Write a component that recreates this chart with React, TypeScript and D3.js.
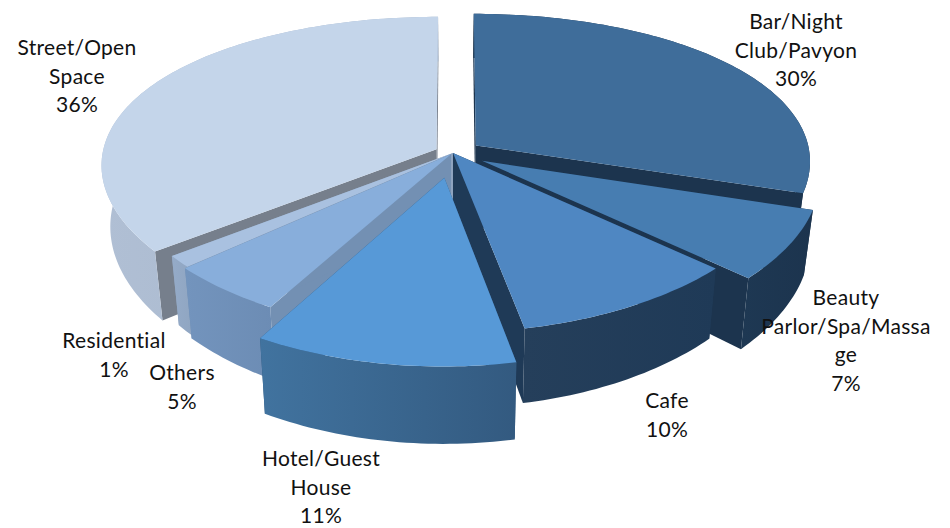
import * as d3 from 'd3'

const categories = ['Bar/Night Club/Pavyon', 'Beauty Parlor/Spa/Massage', 'Cafe', 'Hotel/Guest House', 'Others', 'Residential', 'Street/Open Space']
const shares = [29.9, 7, 10, 11.3, 5.1, 1.2, 35.5]
// how far each slice is pulled out, as a fraction of the radius
const explode = [0.085, 0.1, 0, 0.16, 0.01, 0, 0.055]

const topColors = ['#3f6d9a', '#477db1', '#4f87c2', '#5799d7', '#88aedb', '#a9c1e0', '#c4d5ea']
const sideColors = ['#1c344e', '#1c344e', '#1f3a57', '#2f557a', '#7390b3', '#8ea3bf', '#767f8c']
const wallLeft = ['#1e3852', '#1e3853', '#253f5b', '#41739f', '#7394bd', '#95abc8', '#b0bfd4']
const wallRight = ['#1c344e', '#1c344e', '#1f3a57', '#335a80', '#6c8cb4', '#8fa5c1', '#a5b5cb']

// back to front
const drawOrder = [0, 6, 1, 5, 4, 2, 3]

const labelLines = [
  ['Bar/Night', 'Club/Pavyon', '30%'],
  ['Beauty', 'Parlor/Spa/Massa', 'ge', '7%'],
  ['Cafe', '10%'],
  ['Hotel/Guest', 'House', '11%'],
  ['Others', '5%'],
  ['Residential', '1%'],
  ['Street/Open', 'Space', '36%'],
]
const labelX = [796, 846, 667, 321, 182, 114, 77]
const labelY = [29, 305, 408, 466, 380, 348, 55]

const width = 950
const height = 528
const cx = 453
const cy = 153
const R = 334
const lineH = 28.6

// perspective projection of a point on the pie plane, u to the right, v to the viewer
function project(u: number, v: number, bottom: boolean): [number, number] {
  const x = (R * u) / (1 - 0.1 * v)
  const y = (153 * v) / (1 - 0.147 * v)
  if (!bottom) return [cx + x, cy + y]
  return [cx + x * 0.975, cy + y + 60 + 15 * v]
}

const pieLayout = d3.pie<number>().sort(null).startAngle(0).endAngle(2 * Math.PI)
const arcs = pieLayout(shares)
const line = d3.line()

function slicePaths(i: number) {
  const a = arcs[i]
  const mid = (a.startAngle + a.endAngle) / 2
  const ou = explode[i] * Math.sin(mid)
  const ov = -explode[i] * Math.cos(mid)
  const steps = Math.max(4, Math.ceil((a.endAngle - a.startAngle) / 0.02))
  const angles = d3.range(steps + 1).map((k) => a.startAngle + ((a.endAngle - a.startAngle) * k) / steps)
  const rim = (bottom: boolean) => angles.map((t) => project(ou + Math.sin(t), ov - Math.cos(t), bottom))
  const rimTop = rim(false)
  const rimBottom = rim(true)
  const apexTop = project(ou, ov, false)
  const apexBottom = project(ou, ov, true)
  return {
    top: line([apexTop, ...rimTop]) + 'Z',
    wall: line([...rimTop, ...rimBottom.slice().reverse()]) + 'Z',
    sideA: line([apexTop, apexBottom, rimBottom[0], rimTop[0]]) + 'Z',
    sideB: line([apexTop, apexBottom, rimBottom[steps], rimTop[steps]]) + 'Z',
  }
}

export default function App() {
  return (
    <svg
      width={width}
      height={height}
      viewBox={`0 0 ${width} ${height}`}
      style={{ position: 'absolute', left: 0, top: 0, background: '#fff' }}
    >
      <defs>
        {categories.map((c, i) => (
          <linearGradient key={c} id={`wall-${i}`} x1="0" x2="1" y1="0" y2="0">
            <stop offset="0" stopColor={wallLeft[i]} />
            <stop offset="1" stopColor={wallRight[i]} />
          </linearGradient>
        ))}
      </defs>
      {drawOrder.map((i) => {
        const p = slicePaths(i)
        return (
          <g key={categories[i]}>
            <path d={p.sideA} fill={sideColors[i]} />
            <path d={p.sideB} fill={sideColors[i]} />
            <path d={p.wall} fill={`url(#wall-${i})`} />
            <path d={p.top} fill={topColors[i]} />
          </g>
        )
      })}
      <g fontFamily="Lato, 'Open Sans', sans-serif" fontSize={21} letterSpacing={0.3} fill="#111" textAnchor="middle">
        {labelLines.map((lines, i) => (
          <text key={categories[i]} x={labelX[i]} y={labelY[i]}>
            {lines.map((l, k) => (
              <tspan key={k} x={labelX[i]} y={labelY[i] + k * lineH}>
                {l}
              </tspan>
            ))}
          </text>
        ))}
      </g>
    </svg>
  )
}
